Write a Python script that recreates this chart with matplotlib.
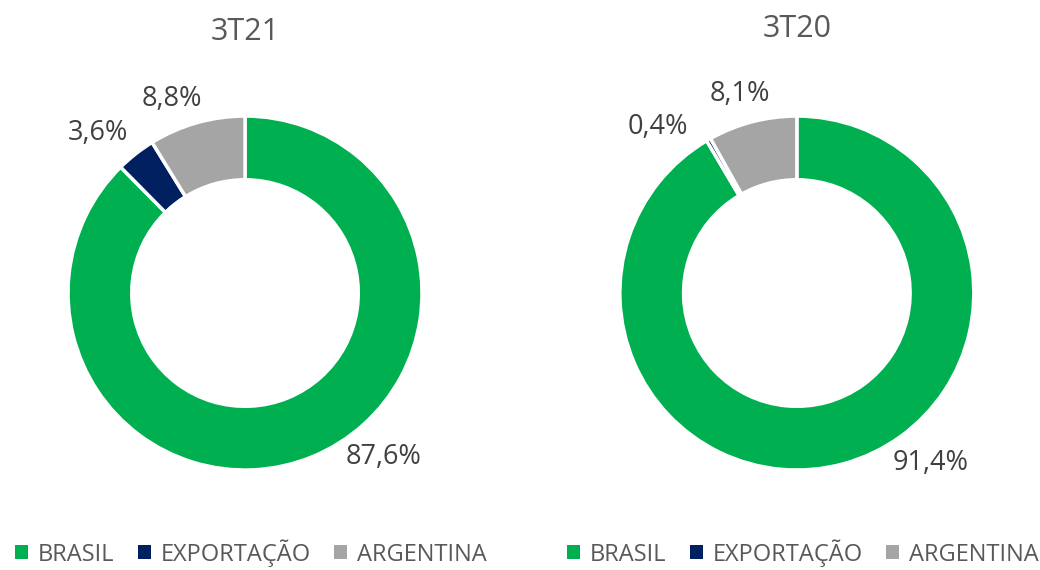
import numpy as np
import matplotlib.pyplot as plt
from matplotlib.patches import Patch

categorias = ['BRASIL', 'EXPORTAÇÃO', 'ARGENTINA']
periodos = ['3T21', '3T20']
valores_3T21 = [87.6, 3.6, 8.8]
valores_3T20 = [91.4, 0.4, 8.1]
cores = ['#00B050', '#002060', '#A5A5A5']
texto = '#404040'
cinza = '#595959'

# posicao dos rotulos (em raios) - estilo "melhor ajuste" do Excel
pos_rotulos = [
    [(0.78, -0.927), (-0.83, 0.904), (-0.412, 1.099)],
    [(0.757, -0.96), (-0.785, 0.94), (-0.322, 1.124)],
]
pos_titulo = [1.475, 1.49]

fig = plt.figure(figsize=(10.4, 5.7), dpi=100)
plt.rcParams['font.family'] = ['Open Sans', 'DejaVu Sans']

caixas = [[0.0654, 0.1754, 0.3404, 0.621], [0.596, 0.1754, 0.3404, 0.621]]
dados = [valores_3T21, valores_3T20]

for i in range(2):
    ax = fig.add_axes(caixas[i])
    ax.pie(dados[i], colors=cores, startangle=90, counterclock=False,
           radius=1.0, wedgeprops=dict(width=0.36, edgecolor='white', linewidth=2.5))
    ax.set_xlim(-1, 1)
    ax.set_ylim(-1, 1)
    ax.set_aspect('equal')
    ax.axis('off')
    for v, (x, y) in zip(dados[i], pos_rotulos[i]):
        ax.text(x, y, ('%.1f%%' % v).replace('.', ','), ha='center', va='center',
                fontsize=19.5, color=texto, clip_on=False)
    ax.text(0, pos_titulo[i], periodos[i], ha='center', va='center', fontsize=22,
            color=cinza, clip_on=False)

    alcas = [Patch(facecolor=c, edgecolor='none') for c in cores]
    cx = [251 / 1040, 803 / 1040][i]
    fig.legend(alcas, categorias, loc='center', bbox_to_anchor=(cx, 0.03), ncol=3,
               frameon=False, fontsize=17, handlelength=0.55, handleheight=0.55,
               handletextpad=0.4, columnspacing=1.0, labelcolor=cinza)

fig.savefig('out.png', dpi=100)
